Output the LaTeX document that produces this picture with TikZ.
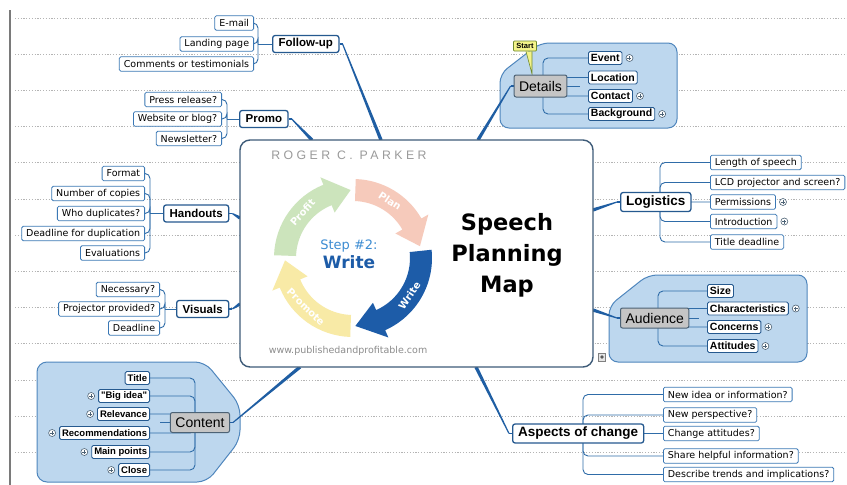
\documentclass[tikz,border=0pt]{standalone}
\usepackage{fontspec}
\setmainfont{DejaVu Sans}
\newfontfamily\topicfont{Liberation Sans}
\newfontfamily\spacedfont[LetterSpace=28]{Liberation Sans}
\usetikzlibrary{calc}

\pgfdeclarelayer{grid}
\pgfdeclarelayer{groups}
\pgfdeclarelayer{links}
\pgfsetlayers{grid,groups,links,main}

\definecolor{gridgray}{HTML}{B4B4B4}
\definecolor{edgegray}{HTML}{7A7A7A}
\definecolor{linkblue}{HTML}{1F5EA3}
\definecolor{thinblue}{HTML}{2F6CA8}
\definecolor{boxblue}{HTML}{3B78B5}
\definecolor{topicblue}{HTML}{25598F}
\definecolor{groupfill}{HTML}{BDD7EE}
\definecolor{groupline}{HTML}{4F86BD}
\definecolor{centerline}{HTML}{3E5B78}
\definecolor{graybox}{HTML}{C5C5C5}
\definecolor{grayline}{HTML}{4C6275}
\definecolor{startfill}{HTML}{F3F38A}
\definecolor{startline}{HTML}{6F8A2E}
\definecolor{ringgreen}{HTML}{CCE4BC}
\definecolor{ringpink}{HTML}{F6CABB}
\definecolor{ringblue}{HTML}{1D5CA8}
\definecolor{ringyellow}{HTML}{F8EAA6}
\definecolor{stepblue}{HTML}{3C8CD2}
\definecolor{urlgray}{HTML}{8C8C8C}
\definecolor{namegray}{HTML}{9A9A9A}

% tapered main branch: node anchor, point on the card, horizontal lead
\newcommand\taperlink[3]{%
  \draw[linkblue, line width=1.1pt] (#1) -- ($(#1)+(#3,0)$) coordinate (leadend);
  \fill[linkblue] ($(leadend)!0.55pt!90:(#2)$) -- ($(leadend)!0.55pt!-90:(#2)$)
     -- ($(#2)!1.7pt!90:(leadend)$) -- ($(#2)!1.7pt!-90:(leadend)$) -- cycle;}

% one arrow of the cycle: colour, tail angle, head base angle, tip angle
\newcommand\ringarrow[4]{%
  \fill[#1] ($(rc)+(#2:79pt)$) arc[start angle=#2, end angle=#3, radius=79pt]
    -- ($(rc)+(#3:87pt)$) -- ($(rc)+(#4:68pt)$) -- ($(rc)+(#3:49pt)$)
    -- ($(rc)+(#3:57pt)$) arc[start angle=#3, end angle=#2, radius=57pt] -- cycle;}

\tikzset{
  leaf/.style={draw=boxblue, fill=white, line width=0.8pt, rounded corners=1.5pt,
    inner xsep=4.5pt, inner ysep=0pt, minimum height=14.5pt,
    font=\fontsize{9.5}{11}\selectfont},
  topic/.style={draw=topicblue, fill=white, line width=1.3pt, rounded corners=2.5pt,
    inner xsep=6pt, inner ysep=0pt, minimum height=17pt,
    font=\topicfont\bfseries\fontsize{11.5}{13}\selectfont},
  bigtopic/.style={topic, inner xsep=5.5pt, minimum height=19pt,
    font=\topicfont\bfseries\fontsize{13.5}{15}\selectfont},
  gleaf/.style={draw=topicblue, fill=white, line width=0.9pt, rounded corners=1.5pt,
    inner xsep=2.5pt, inner ysep=0pt, minimum height=13pt,
    font=\topicfont\bfseries\fontsize{9.5}{11}\selectfont},
  bgleaf/.style={gleaf, font=\topicfont\bfseries\fontsize{10.5}{12}\selectfont},
  gtopic/.style={draw=grayline, fill=graybox, line width=1pt, rounded corners=2pt,
    inner xsep=5pt, inner ysep=0pt, minimum height=20pt,
    font=\topicfont\fontsize{14}{16}\selectfont},
  plusmark/.style={circle, draw=grayline, fill=white, line width=0.6pt,
    minimum size=7pt, inner sep=0pt,
    path picture={\draw[line width=0.7pt]
      ($(path picture bounding box.center)+(-2pt,0pt)$) -- ++(4pt,0pt)
      ($(path picture bounding box.center)+(0pt,-2pt)$) -- ++(0pt,4pt);}},
  sublink/.style={draw=thinblue, line width=0.9pt, rounded corners=5pt},
  groupshape/.style={fill=groupfill, draw=groupline, line width=1pt},
  card/.style={draw=centerline, line width=1.4pt, fill=white, rounded corners=10pt,
    minimum width=353pt, minimum height=227pt, inner sep=0pt},
  ringtext/.style={text=white, font=\bfseries\fontsize{10}{12}\selectfont, inner sep=0pt},
  startnote/.style={draw=startline, fill=startfill, line width=0.7pt, rounded corners=1pt,
    inner xsep=3pt, inner ysep=0pt, minimum height=10pt,
    font=\topicfont\bfseries\fontsize{7.5}{8}\selectfont},
}

\begin{document}
\begin{tikzpicture}[x=1pt,y=-1pt]
\useasboundingbox (0,0) rectangle (847,485);

% ---------- paper: ruled dotted lines and left margin ----------
\begin{pgfonlayer}{grid}
  \fill[white] (0,0) rectangle (847,485);
  \foreach \k in {0,...,12}{
    \pgfmathsetmacro\yy{18+36.2*\k}
    \draw[gridgray, line width=0.8pt, dash pattern=on 1.2pt off 1.6pt] (15,\yy) -- (847,\yy);
  }
  \draw[edgegray, line width=1.2pt] (10,10) -- (10,485);
\end{pgfonlayer}

% ---------- grouped branches (shaded boundaries) ----------
\begin{pgfonlayer}{groups}
  \draw[groupshape, rounded corners=10pt]
    (37,362) -- (205,362) -- (240,405) -- (240,440) -- (207,482) -- (37,482) -- cycle;
  \draw[groupshape, rounded corners=9pt]
    (500,74) -- (540,43) -- (677,43) -- (677,128) -- (500,128) -- cycle;
  \draw[groupshape, rounded corners=9pt]
    (609,306) -- (648,275) -- (807,275) -- (807,362) -- (609,362) -- cycle;
\end{pgfonlayer}

% ---------- central card ----------
\node[card] (cb) at (416.5,253.5) {};
\coordinate (rc) at (353,258);
\ringarrow{ringyellow}{-92}{-158}{-178}
\ringarrow{ringgreen}{178}{112}{92}
\ringarrow{ringpink}{88}{30}{10}
\ringarrow{ringblue}{6}{-66}{-88}
\node[ringtext, rotate=48] (tprofit) at ($(rc)+(138:68pt)$) {Profit};
\node[ringtext, rotate=-33] (tplan) at ($(rc)+(57:68pt)$) {Plan};
\node[ringtext, rotate=56] (twrite) at ($(rc)+(-34:68pt)$) {Write};
\node[ringtext, rotate=-44] (tpromote) at ($(rc)+(-134:68pt)$) {Promote};
\node[text=stepblue, font=\fontsize{13}{15}\selectfont] (step) at (349,246) {Step \#2:};
\node[text=ringblue, font=\bfseries\fontsize{17}{19}\selectfont] (stepname) at (349,262) {Write};
\node[text=namegray, font=\spacedfont\fontsize{12.3}{14}\selectfont] (author) at (349,155) {ROGER C. PARKER};
\node[text=urlgray, font=\fontsize{9.5}{11}\selectfont] (url) at (348,351) {www.publishedandprofitable.com};
\node[align=center, font=\bfseries\fontsize{22.5}{31}\selectfont] (title) at (507,255) {Speech\\Planning\\Map};
\node[draw=gray, fill=gray!20, line width=0.5pt, minimum width=7pt, minimum height=8pt, inner sep=0pt,
  path picture={\fill[gray!70!black] (path picture bounding box.center) circle (1.8pt);}] (noteicon) at (602,357) {};

% ---------- Follow-up ----------
\node[topic, anchor=west] (fu) at (272,44) {Follow-up};
\node[leaf, anchor=east] (fu1) at (254,23) {E-mail};
\node[leaf, anchor=east] (fu2) at (254,44) {Landing page};
\node[leaf, anchor=east] (fu3) at (254,64) {Comments or testimonials};
\coordinate (fub) at (258,44);

% ---------- Promo ----------
\node[topic, anchor=west] (pr) at (239,119) {Promo};
\node[leaf, anchor=east] (pr1) at (222,99.5) {Press release?};
\node[leaf, anchor=east] (pr2) at (222,119) {Website or blog?};
\node[leaf, anchor=east] (pr3) at (222,138.5) {Newsletter?};
\coordinate (prb) at (227,119);

% ---------- Handouts ----------
\node[topic, anchor=west] (ho) at (163,213.5) {Handouts};
\node[leaf, anchor=east] (ho1) at (145,173.5) {Format};
\node[leaf, anchor=east] (ho2) at (145,193.5) {Number of copies};
\node[leaf, anchor=east] (ho3) at (145,213.5) {Who duplicates?};
\node[leaf, anchor=east] (ho4) at (145,233.5) {Deadline for duplication};
\node[leaf, anchor=east] (ho5) at (145,253) {Evaluations};
\coordinate (hob) at (150,213.5);

% ---------- Visuals ----------
\node[topic, anchor=west] (vi) at (176,309) {Visuals};
\node[leaf, anchor=east] (vi1) at (160,289.5) {Necessary?};
\node[leaf, anchor=east] (vi2) at (160,309) {Projector provided?};
\node[leaf, anchor=east] (vi3) at (160,328) {Deadline};
\coordinate (vib) at (165,309);

% ---------- Content (group) ----------
\node[gtopic, anchor=east] (ct) at (230,422.5) {Content};
\node[gleaf, anchor=east] (ct1) at (150,378) {Title};
\node[gleaf, anchor=east] (ct2) at (150,396) {"Big idea"};
\node[gleaf, anchor=east] (ct3) at (150,414) {Relevance};
\node[gleaf, anchor=east] (ct4) at (150,433) {Recommendations};
\node[gleaf, anchor=east] (ct5) at (150,452) {Main points};
\node[gleaf, anchor=east] (ct6) at (150,470) {Close};
\foreach \c in {ct2,ct3,ct4,ct5,ct6}
  \node[plusmark] (p\c) at ($(\c.west)+(-7,0)$) {};
\coordinate (ctb) at (195,422.5);
\coordinate (ctstub) at (160,422.5);

% ---------- Details (group) ----------
\node[gtopic, minimum height=22pt] (de) at (540.5,86) {Details};
\node[bgleaf, anchor=west] (de1) at (588,58) {Event};
\node[bgleaf, anchor=west] (de2) at (588,77.5) {Location};
\node[bgleaf, anchor=west] (de3) at (588,96) {Contact};
\node[bgleaf, anchor=west] (de4) at (588,114) {Background};
\foreach \c in {de1,de3,de4}
  \node[plusmark] (p\c) at ($(\c.east)+(7,0)$) {};
\coordinate (deb) at (543,86);
\coordinate (destub) at (580,86);
\node[startnote] (start) at (525,46) {Start};
\coordinate (starttip) at (532,74);

% ---------- Logistics ----------
\node[bigtopic, anchor=west] (lg) at (620,202) {Logistics};
\node[leaf, anchor=west] (lg1) at (710,162.5) {Length of speech};
\node[leaf, anchor=west] (lg2) at (710,182.5) {LCD projector and screen?};
\node[leaf, anchor=west] (lg3) at (710,202) {Permissions};
\node[leaf, anchor=west] (lg4) at (710,221.5) {Introduction};
\node[leaf, anchor=west] (lg5) at (710,242) {Title deadline};
\foreach \c in {lg3,lg4}
  \node[plusmark] (p\c) at ($(\c.east)+(7,0)$) {};
\coordinate (lgb) at (660,202);

% ---------- Audience (group) ----------
\node[gtopic, anchor=west] (au) at (620,318) {Audience};
\node[bgleaf, anchor=west] (au1) at (707,291) {Size};
\node[bgleaf, anchor=west] (au2) at (707,308.5) {Characteristics};
\node[bgleaf, anchor=west] (au3) at (707,327) {Concerns};
\node[bgleaf, anchor=west] (au4) at (707,346) {Attitudes};
\foreach \c in {au2,au3,au4}
  \node[plusmark] (p\c) at ($(\c.east)+(7,0)$) {};
\coordinate (aub) at (658,318);
\coordinate (austub) at (699,318);

% ---------- Aspects of change ----------
\node[bigtopic, anchor=west] (as) at (512,433.5) {Aspects of change};
\node[leaf, anchor=west] (as1) at (663,394.5) {New idea or information?};
\node[leaf, anchor=west] (as2) at (663,415) {New perspective?};
\node[leaf, anchor=west] (as3) at (663,433.5) {Change attitudes?};
\node[leaf, anchor=west] (as4) at (663,456) {Share helpful information?};
\node[leaf, anchor=west] (as5) at (663,474.5) {Describe trends and implications?};
\coordinate (asb) at (583,433.5);

% ---------- points where branches meet the card ----------
\coordinate (cfu) at (381,140);
\coordinate (cpr) at (312,140);
\coordinate (cho) at (240,218);
\coordinate (cvi) at (240,304);
\coordinate (cct) at (300,367);
\coordinate (cde) at (478,140);
\coordinate (clg) at (593,210);
\coordinate (cau) at (593,310);
\coordinate (cas) at (476,367);

% ---------- connectors ----------
\begin{pgfonlayer}{links}
  % sub-topic brackets on the left
  \foreach \p/\b/\kids in {fu/fub/{fu1,fu2,fu3}, pr/prb/{pr1,pr2,pr3},
                           ho/hob/{ho1,ho2,ho3,ho4,ho5}, vi/vib/{vi1,vi2,vi3}}{
    \draw[sublink] (\b) -- (\p.west);
    \foreach \c in \kids \draw[sublink] (\b) |- (\c.east);
  }
  % buses running behind the parent topic
  \foreach \c in {ct1,ct2,ct3,ct4,ct5,ct6} \draw[sublink] (ctb) |- (\c.east);
  \draw[sublink] (ct.west) -- (ctstub);
  \foreach \c in {de1,de2,de3,de4} \draw[sublink] (deb) |- (\c.west);
  \draw[sublink] (de.east) -- (destub);
  \foreach \c in {lg1,lg2,lg3,lg4,lg5} \draw[sublink] (lgb) |- (\c.west);
  \foreach \c in {au1,au2,au3,au4} \draw[sublink] (aub) |- (\c.west);
  \draw[sublink] (au.east) -- (austub);
  \foreach \c in {as1,as2,as3,as4,as5} \draw[sublink] (asb) |- (\c.west);
  % callout tail
  \filldraw[fill=startfill, draw=startline, line width=0.6pt]
    ($(start.south)+(1,0)$) -- (starttip) -- ($(start.south)+(7,0)$);
  % main branches
  \taperlink{fu.east}{cfu}{3}
  \taperlink{pr.east}{cpr}{3}
  \taperlink{ho.east}{cho}{3}
  \taperlink{vi.east}{cvi}{3}
  \taperlink{ct.east}{cct}{3}
  \taperlink{de.west}{cde}{-3}
  \taperlink{lg.west}{clg}{-3}
  \taperlink{au.west}{cau}{-3}
  \taperlink{as.west}{cas}{-3}
\end{pgfonlayer}
\end{tikzpicture}
\end{document}
